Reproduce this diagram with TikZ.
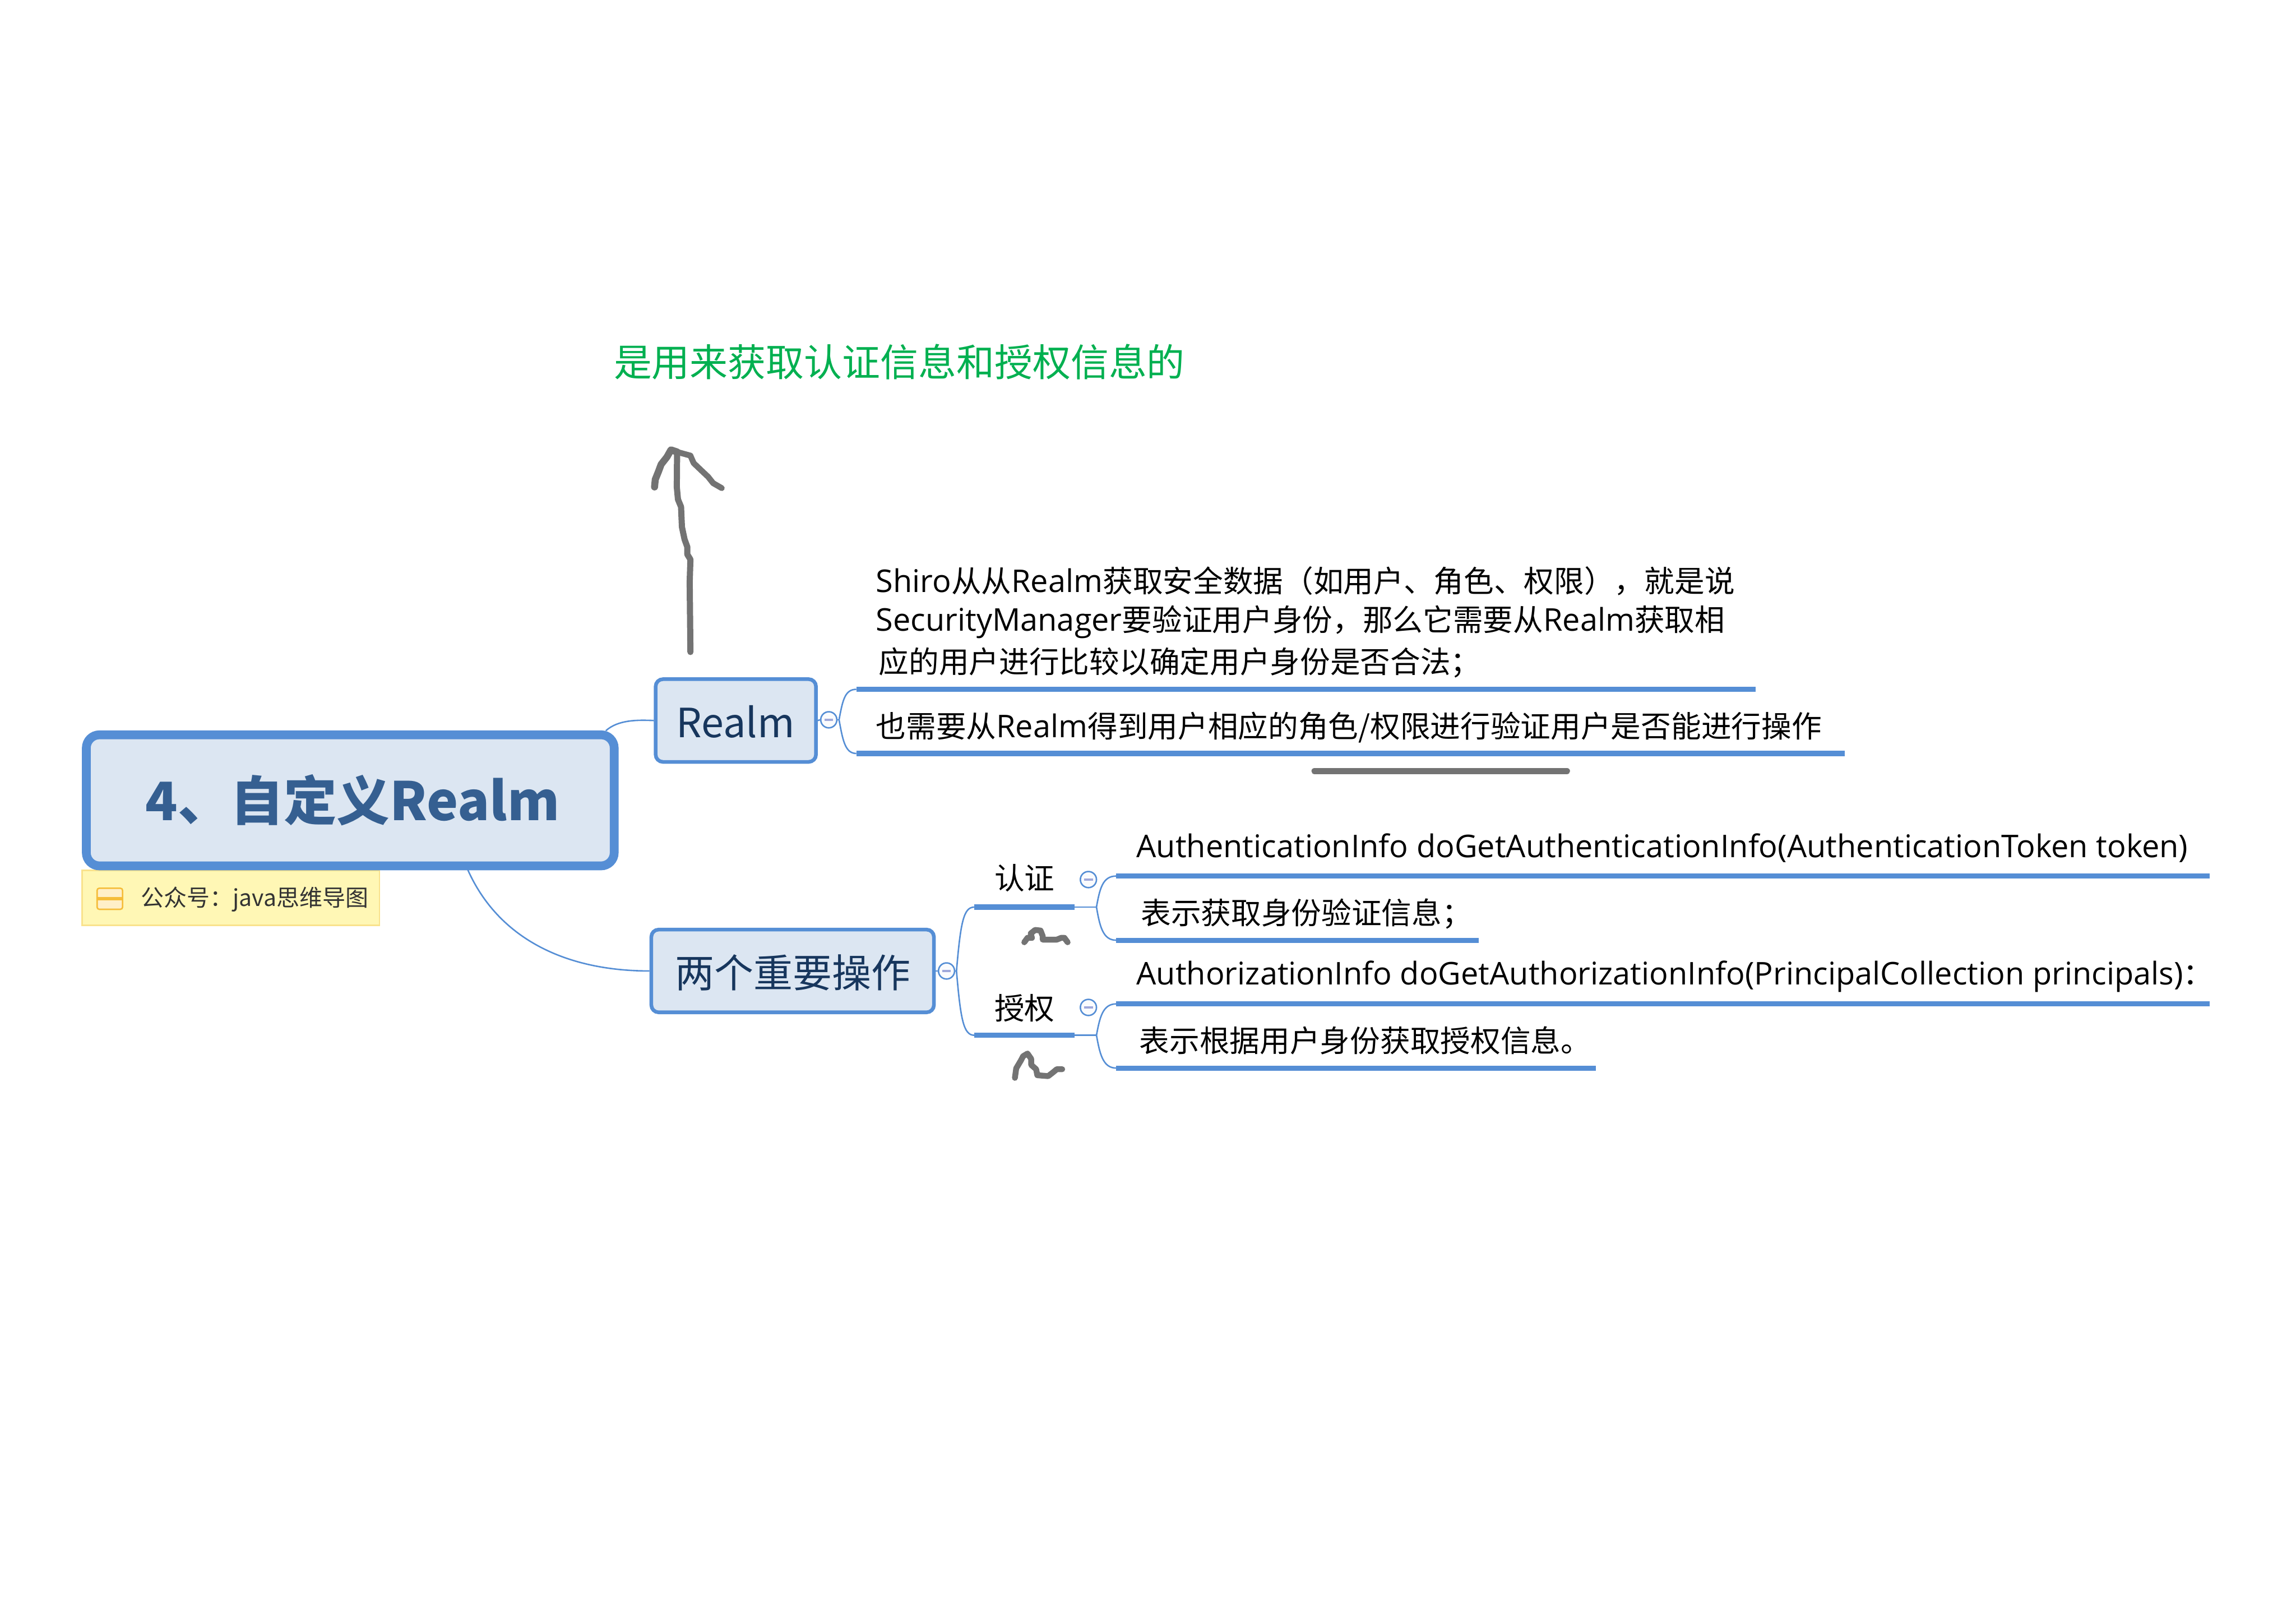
\documentclass[tikz,border=0pt]{standalone}
\usepackage{fontspec}
\setmainfont{Noto Sans CJK SC}
\newfontfamily\latf[Scale=1.04]{Open Sans}
\newcommand{\lat}[1]{{\latf #1}}
\definecolor{mapblue}{HTML}{558ED5}
\definecolor{boxfill}{HTML}{DCE6F2}
\definecolor{titleblue}{HTML}{355F91}
\definecolor{subblue}{HTML}{17365D}
\definecolor{notefill}{HTML}{FFF7B5}
\definecolor{noteline}{HTML}{F9E28C}
\definecolor{inkgray}{HTML}{737373}
\definecolor{minusbar}{HTML}{9FA8DA}
\definecolor{greentext}{HTML}{00B050}
\definecolor{iconline}{HTML}{F5BD3A}
\definecolor{iconfill}{HTML}{FFEFC8}
\newcommand{\fs}[1]{\fontsize{#1}{#1}\selectfont}
\tikzset{
  x=1pt,y=-1pt,
  label text/.style={inner sep=0pt,anchor=base west,text=black,font=\fs{20.55}},
  central/.style={draw=mapblue,line width=6pt,fill=boxfill,rounded corners=9pt,inner sep=0pt},
  mainbox/.style={draw=mapblue,line width=2.5pt,fill=boxfill,rounded corners=5pt,inner sep=0pt},
  bar/.style={draw=mapblue,line width=3.5pt},
  thin link/.style={draw=mapblue,line width=1pt},
  ink/.style={draw=inkgray,line cap=round,line join=round},
  collapse/.style={circle,draw=mapblue,line width=1pt,fill=white!95!minusbar,minimum size=11pt,inner sep=0pt,
    path picture={\fill[minusbar] ([xshift=-3pt,yshift=-.7pt]path picture bounding box.center) rectangle ([xshift=3pt,yshift=.7pt]path picture bounding box.center);}},
}
\begin{document}
\begin{tikzpicture}
\useasboundingbox[fill=white] (0,0) rectangle (1568,1108);

% note
\node[draw=noteline,line width=1pt,fill=notefill,minimum width=203pt,minimum height=37.5pt,inner sep=0pt] (note) at (157.6,613) {};
\node[draw=none,fill=none,inner sep=0pt,anchor=west,text=black!80,font=\fs{15.7}] (notetext) at (96,614) {公众号：java思维导图};
\node[draw=none,inner sep=0pt,minimum width=17pt,minimum height=14pt] (noteicon) at (75,613.7) {};
\draw[draw=iconline,line width=1pt,fill=iconfill,rounded corners=1.5pt] (noteicon.north west) rectangle (noteicon.south east);
\draw[draw=iconline,line width=2.2pt] (noteicon.west) -- (noteicon.east);

% main boxes
\node[central,minimum width=360.5pt,minimum height=89.5pt] (center) at (239.2,546.5) {};
\node[inner sep=0pt,text=titleblue,font=\fs{36.2}\bfseries] (centertext) at (240.8,546.5) {4、自定义Realm};
\node[mainbox,minimum width=109.5pt,minimum height=56.5pt] (realm) at (502.5,492) {};
\node[inner sep=0pt,text=subblue,font=\fs{27.5}] (realmtext) at (502.3,493) {Realm};
\node[mainbox,minimum width=193pt,minimum height=56.5pt] (ops) at (541.3,663) {};
\node[inner sep=0pt,text=subblue,font=\fs{26.8}] (opstext) at (541.3,664) {两个重要操作};

\coordinate (cr) at (413.7,499);
\coordinate (co) at (319.5,594);
\draw[thin link] (cr) .. controls (422,491.5) and (435,491.5) .. (realm.west);
\draw[thin link] (co) .. controls (340,640) and (385,663) .. (ops.west);

% Realm branch
\node[collapse] (cr1) at (566,491.5) {};
\coordinate (jr) at (573,491.5);
\coordinate (ra) at (584.8,470.7);
\coordinate (rae) at (1199,470.7);
\coordinate (rb) at (584.8,514.5);
\coordinate (rbe) at (1260,514.5);
\draw[thin link] (realm.east) -- (cr1.west);
\draw[thin link] (cr1.east) -- (jr);
\draw[thin link] (jr) .. controls (575.5,478) and (577,470.7) .. (ra);
\draw[thin link] (jr) .. controls (575.5,505) and (577,514.5) .. (rb);
\draw[bar] (ra) -- (rae);
\draw[bar] (rb) -- (rbe);
\node[label text] (t1) at (598,404.5) {\lat{Shiro}从从\lat{Realm}获取安全数据（如用户、角色、权限），就是说};
\node[label text] (t2) at (598,431) {\lat{SecurityManager}要验证用户身份，那么它需要从\lat{Realm}获取相};
\node[label text] (t3) at (600,459.5) {应的用户进行比较以确定用户身份是否合法；};
\node[label text] (t4) at (598,503.5) {也需要从\lat{Realm}得到用户相应的角色/权限进行验证用户是否能进行操作};

% Operations branch
\node[collapse] (co1) at (646.4,663) {};
\coordinate (jo) at (653.2,663);
\coordinate (ba) at (665.3,619.4);
\coordinate (bae) at (733.7,619.4);
\coordinate (bb) at (665.3,706.9);
\coordinate (bbe) at (733.7,706.9);
\draw[thin link] (ops.east) -- (co1.west);
\draw[thin link] (co1.east) -- (jo);
\draw[thin link] (jo) .. controls (656,630) and (658,619.4) .. (ba);
\draw[thin link] (jo) .. controls (656,696) and (658,706.9) .. (bb);
\draw[bar] (ba) -- (bae);
\draw[bar] (bb) -- (bbe);
\node[label text] (renz) at (679,607.5) {认证};
\node[label text] (shou) at (679,696) {授权};

\node[collapse] (co2) at (743.3,600.6) {};
\node[collapse] (co3) at (743.3,687.9) {};
\coordinate (ja) at (748.8,619.4);
\coordinate (jb) at (748.8,706.9);
\draw[thin link] (bae) -- (ja);
\draw[thin link] (bbe) -- (jb);
\coordinate (a1) at (762.2,598.2);
\coordinate (a1e) at (1509,598.2);
\coordinate (a2) at (762.2,642);
\coordinate (a2e) at (1010,642);
\coordinate (b1) at (762.2,685.5);
\coordinate (b1e) at (1509,685.5);
\coordinate (b2) at (762.2,729.3);
\coordinate (b2e) at (1090,729.3);
\draw[thin link] (ja) .. controls (751,607) and (753,598.2) .. (a1);
\draw[thin link] (ja) .. controls (751,632) and (753,642) .. (a2);
\draw[thin link] (jb) .. controls (751,695) and (753,685.5) .. (b1);
\draw[thin link] (jb) .. controls (751,719) and (753,729.3) .. (b2);
\draw[bar] (a1) -- (a1e);
\draw[bar] (a2) -- (a2e);
\draw[bar] (b1) -- (b1e);
\draw[bar] (b2) -- (b2e);
\node[label text] (x1) at (776,585.5) {\lat{AuthenticationInfo doGetAuthenticationInfo(AuthenticationToken token)}};
\node[label text] (x2) at (779,631) {表示获取身份验证信息；};
\node[label text] (x3) at (776,672.5) {\lat{AuthorizationInfo doGetAuthorizationInfo(PrincipalCollection principals)}：};
\node[label text] (x4) at (778,718.3) {表示根据用户身份获取授权信息。};

% green annotation
\node[inner sep=0pt,anchor=west,text=greentext,font=\fs{26}] (green) at (419,247) {是用来获取认证信息和授权信息的};

% hand-drawn ink
\draw[ink,line width=4.2pt] (471.5,445.2) -- (471,397.4) -- (471.5,382) -- (469.4,378.6) -- (469.4,373.5) -- (467.5,368.3) -- (465.7,359.8) -- (465.1,346.1) -- (463,341) -- (462.2,332.5) -- (462.4,308.6);
\draw[ink,line width=4.8pt] (462.4,308.6) -- (458.2,307.2) -- (455.5,312) -- (451.5,317.1) -- (449.6,322.2) -- (447.5,327.4) -- (447,332.5);
\draw[ink,line width=4pt] (462.4,308.6) -- (471.5,311.1) -- (473.7,316.2) -- (478.2,320.5) -- (483.6,325.6) -- (487,329.9) -- (492.9,333.3);
\draw[ink,line width=4.4pt] (897.8,526.5) -- (1070,526.5);
\draw[ink,line width=4pt] (699.5,643.4) -- (701.7,640.4) -- (704.7,640.4) -- (703.9,637.4) -- (706.9,635) -- (710.6,635.4) -- (712.1,639.2) -- (712.1,641.6) -- (721.7,641.6) -- (724.7,640.4) -- (726.9,640.4) -- (729.1,643.4);
\draw[ink,line width=4pt] (693.1,736) -- (694,729.5) -- (697.2,724.1) -- (698.7,721.2) -- (701.7,719.4) -- (704.2,723) -- (704.2,727.1) -- (707.6,730.1) -- (708.4,734.2) -- (715.8,734.8) -- (718.8,732.5) -- (721.7,730.1) -- (725.4,730.1);
\end{tikzpicture}
\end{document}
